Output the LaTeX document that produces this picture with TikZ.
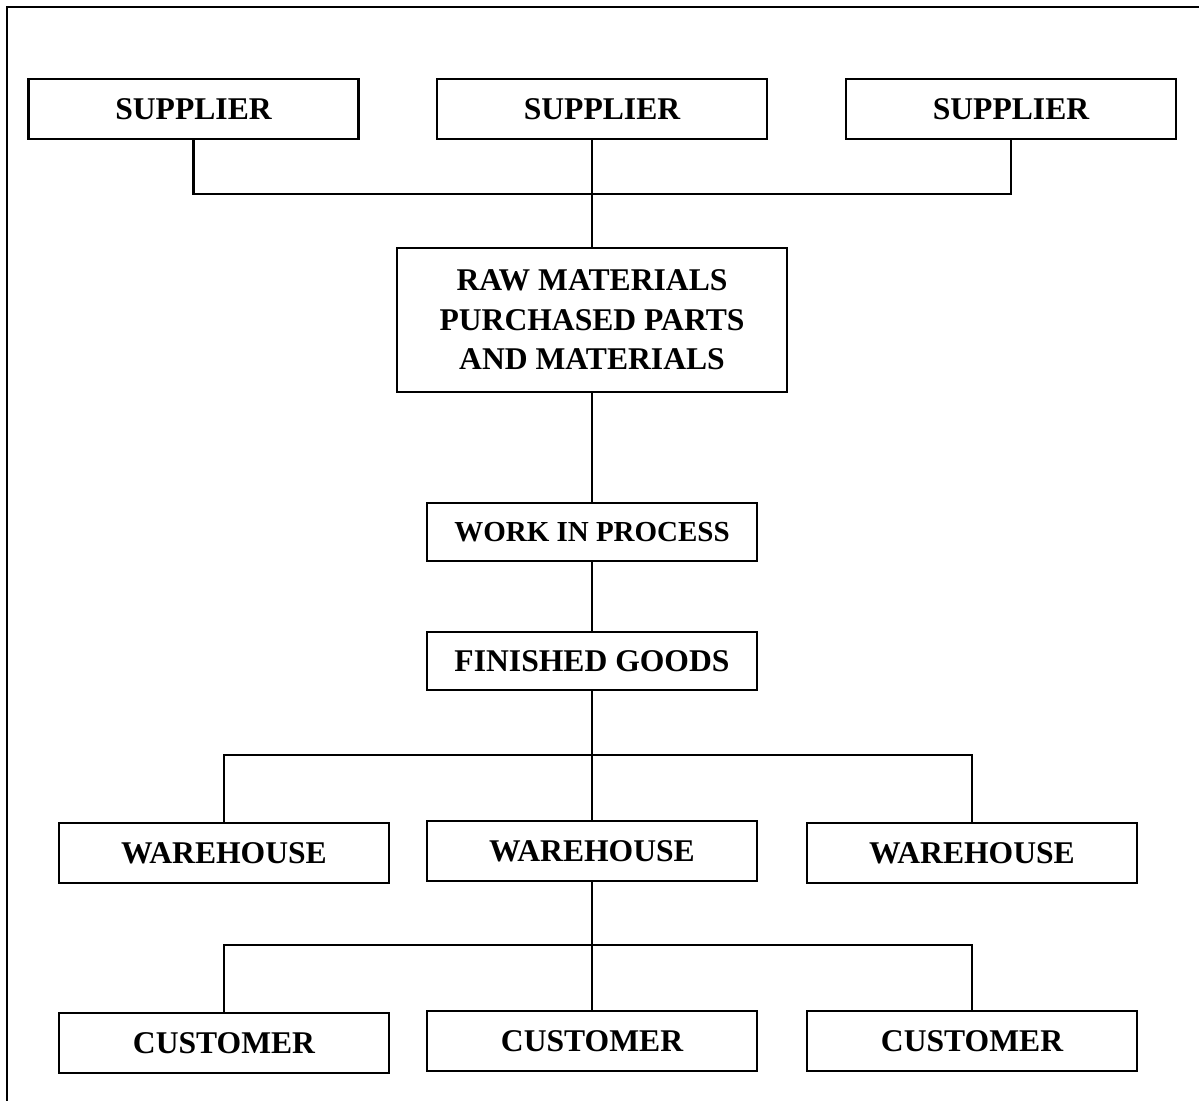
\documentclass[tikz,border=0pt]{standalone}
\usepackage{fontspec}
\setmainfont{Liberation Serif}

\tikzset{
  blocco/.style={draw, line width=1.4pt, minimum width=6.6cm, minimum height=1.2cm,
    inner sep=0pt, align=center, font=\bfseries\fontsize{18}{22.5}\selectfont},
  linea/.style={line width=1.2pt}
}

\begin{document}
\begin{tikzpicture}[x=0.02cm,y=-0.02cm]
        \useasboundingbox (0,0) rectangle (1199,1101);

        % Disegna la cornice
        \draw[line width=1.6pt] (1199,7) -- (7,7) -- (7,1101);

        % Disegna i fornitori
        \node[blocco] (sup1) at (193.5,109) {SUPPLIER};
        \node[blocco] (sup2) at (602,109) {SUPPLIER};
        \node[blocco] (sup3) at (1011,109) {SUPPLIER};

        % Disegna i blocchi centrali
        \node[blocco, minimum width=7.8cm, minimum height=2.88cm] (raw) at (592,320)
            {RAW MATERIALS\\PURCHASED PARTS\\AND MATERIALS};
        \node[blocco, minimum height=1.16cm, font=\bfseries\fontsize{16.5}{20}\selectfont] (wip) at (592,532) {WORK IN PROCESS};
        \node[blocco, minimum height=1.16cm] (fg) at (592,661) {FINISHED GOODS};

        % Disegna i magazzini
        \node[blocco] (wh1) at (224,853) {WAREHOUSE};
        \node[blocco] (wh2) at (592,851) {WAREHOUSE};
        \node[blocco] (wh3) at (972,853) {WAREHOUSE};

        % Disegna i clienti
        \node[blocco] (cus1) at (224,1043) {CUSTOMER};
        \node[blocco] (cus2) at (592,1041) {CUSTOMER};
        \node[blocco] (cus3) at (972,1041) {CUSTOMER};

        % Punti di raccordo
        \coordinate (busA) at (592,194);
        \coordinate (busB) at (592,755);
        \coordinate (busC) at (592,945);

        % Collega i fornitori
        \draw[linea] (sup1.south) |- (busA) -| (sup3.south);
        \draw[linea] (raw.north) -- (raw.north |- sup2.south);

        % Collega la catena centrale
        \draw[linea] (raw.south) -- (wip.north);
        \draw[linea] (wip.south) -- (fg.north);
        \draw[linea] (fg.south) -- (wh2.north);
        \draw[linea] (wh1.north) |- (busB) -| (wh3.north);

        % Collega i clienti
        \draw[linea] (wh2.south) -- (cus2.north);
        \draw[linea] (cus1.north) |- (busC) -| (cus3.north);
    \end{tikzpicture}
\end{document}
